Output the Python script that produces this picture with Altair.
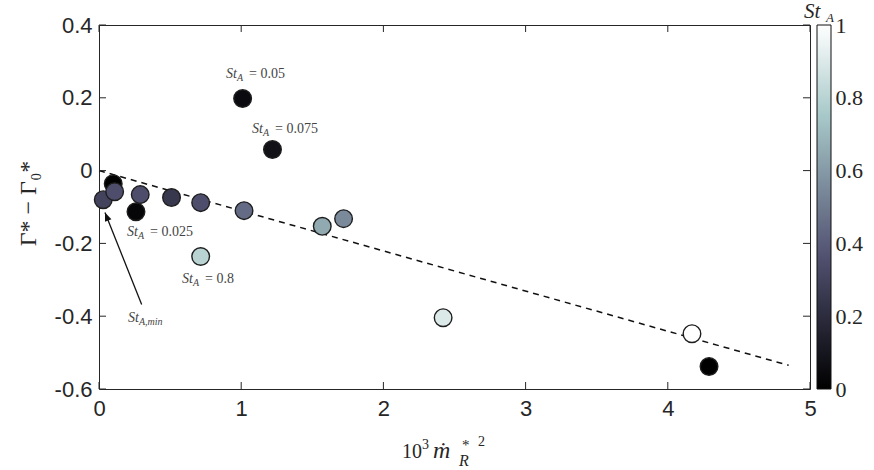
import altair as alt
import pandas as pd

# ---- data ----
x_vals = [0.10, 0.03, 0.11, 0.26, 0.29, 0.51, 0.715, 1.02, 0.715, 1.01, 1.22, 1.57, 1.72, 2.42, 4.17, 4.29]
y_vals = [-0.036, -0.080, -0.058, -0.113, -0.066, -0.074, -0.088, -0.110, -0.236, 0.198, 0.058, -0.153, -0.132, -0.404, -0.448, -0.538]
st_vals = [0.0, 0.30, 0.35, 0.025, 0.35, 0.25, 0.35, 0.45, 0.80, 0.05, 0.075, 0.65, 0.55, 0.90, 1.00, 0.0]

line_x = [0.0, 4.85]
line_y = [0.0, -0.535]

ann_x = [0.893, 1.076, 0.197, 0.584, 0.204]
ann_y = [0.2555, 0.104, -0.1786, -0.3077, -0.415]
ann_sub = ["A", "A", "A", "A", "A,min"]
ann_rest = ["= 0.05", "= 0.075", "= 0.025", "= 0.8", ""]

arrow_from = [0.30, -0.368]
arrow_to = [0.042, -0.115]

x_ticks = [0, 1, 2, 3, 4, 5]
y_ticks = [-0.6, -0.4, -0.2, 0, 0.2, 0.4]
cbar_ticks = [0, 0.2, 0.4, 0.6, 0.8, 1]

W, H = 711, 364
INK = "#262626"
SERIF = "Liberation Serif"

xscale = alt.Scale(domain=[0, 5], nice=False, zero=False)
yscale = alt.Scale(domain=[-0.6, 0.4], nice=False, zero=False)
cscale = alt.Scale(domain=[0, 0.365, 0.746, 1],
                   range=["#000000", "#515171", "#a6c7c7", "#ffffff"],
                   interpolate="rgb")

pts = pd.DataFrame({"x": x_vals, "y": y_vals, "st": st_vals, "order": list(range(len(x_vals)))})

points = alt.Chart(pts).mark_circle(size=310, opacity=1, stroke="#1e1e1e", strokeWidth=1.4).encode(
    x=alt.X("x:Q", scale=xscale,
            axis=alt.Axis(values=x_ticks, title=None, ticks=False, grid=False, domain=False,
                          labelFont="Liberation Sans", labelFontSize=22, labelColor=INK,
                          labelPadding=9, labelFlush=False, labelExpr="format(datum.value, 'd')")),
    y=alt.Y("y:Q", scale=yscale,
            axis=alt.Axis(values=y_ticks, title="Γ* − Γ₀*", ticks=False, grid=False, domain=False,
                          labelFont="Liberation Sans", labelFontSize=22, labelColor=INK,
                          labelPadding=7, labelFlush=False,
                          labelExpr="datum.value == 0 ? '0' : replace(format(datum.value, '.1f'), '−', '-')",
                          titleFont=SERIF, titleFontSize=24, titleFontWeight="normal", titleColor=INK,
                          titleX=-71, titleY=178, titleAngle=270, titleAlign="center",
                          titleBaseline="middle")),
    color=alt.Color("st:Q", scale=cscale,
                    legend=alt.Legend(orient="none", legendX=718, legendY=0, title=None,
                                      direction="vertical", gradientLength=H, gradientThickness=14,
                                      gradientStrokeColor="#111", gradientStrokeWidth=1,
                                      values=cbar_ticks, labelOpacity=0, labelExpr="''",
                                      padding=0, offset=0)),
    order=alt.Order("order:Q"),
)

line_df = pd.DataFrame({"x": line_x, "y": line_y})
fit = alt.Chart(line_df).mark_line(color="#111", strokeWidth=1.5, strokeDash=[6, 5]).encode(
    x=alt.X("x:Q", scale=xscale), y=alt.Y("y:Q", scale=yscale))

ann_df = pd.DataFrame({"x": ann_x, "y": ann_y, "sub": ann_sub, "rest": ann_rest})
abase = alt.Chart(ann_df).encode(x=alt.X("x:Q", scale=xscale), y=alt.Y("y:Q", scale=yscale))
ann_st = abase.mark_text(align="left", baseline="alphabetic", font=SERIF, fontStyle="italic",
                         fontSize=14, color="#444").encode(text=alt.value("St"))
ann_sb = abase.mark_text(align="left", baseline="alphabetic", font=SERIF, fontStyle="italic",
                         fontSize=10, color="#444", dx=11, dy=3).encode(text="sub:N")
ann_rt = abase.mark_text(align="left", baseline="alphabetic", font=SERIF,
                         fontSize=14, color="#444", dx=23).encode(text="rest:N")

arrow_df = pd.DataFrame({"x": [arrow_from[0]], "y": [arrow_from[1]],
                         "x2": [arrow_to[0]], "y2": [arrow_to[1]]})
arrow_line = alt.Chart(arrow_df).mark_rule(color="#111", strokeWidth=1.3).encode(
    x=alt.X("x:Q", scale=xscale), y=alt.Y("y:Q", scale=yscale), x2="x2:Q", y2="y2:Q")
arrow_head = alt.Chart(arrow_df).mark_point(shape="M0,0 L-0.4,1 L0.4,1 Z", size=300, angle=338,
                                            filled=True, color="#111", opacity=1).encode(
    x=alt.X("x2:Q", scale=xscale), y=alt.Y("y2:Q", scale=yscale))

# inward ticks (box style)
xt = pd.DataFrame({"v": x_ticks})
yt = pd.DataFrame({"v": y_ticks})
tb = alt.Chart(xt).mark_rule(color=INK, strokeWidth=1).encode(
    x=alt.X("v:Q", scale=xscale), y=alt.value(H), y2=alt.value(H - 7))
tt = alt.Chart(xt).mark_rule(color=INK, strokeWidth=1).encode(
    x=alt.X("v:Q", scale=xscale), y=alt.value(0), y2=alt.value(7))
tl = alt.Chart(yt).mark_rule(color=INK, strokeWidth=1).encode(
    y=alt.Y("v:Q", scale=yscale), x=alt.value(0), x2=alt.value(7))
tr = alt.Chart(yt).mark_rule(color=INK, strokeWidth=1).encode(
    y=alt.Y("v:Q", scale=yscale), x=alt.value(W), x2=alt.value(W - 7))

# x-axis title pieces: 10^3 mdot*_R^2
one = alt.Data(values=[{"k": 0}])
def piece(txt, px, py, size, italic=False):
    return alt.Chart(one).mark_text(align="left", baseline="alphabetic", font=SERIF,
                                    fontStyle="italic" if italic else "normal",
                                    fontSize=size, color=INK).encode(
        x=alt.value(px), y=alt.value(py), text=alt.value(txt))

xtitle = [
    piece("10", 303, 433, 20),
    piece("3", 323, 424, 14),
    piece("ṁ", 334, 433, 24, True),
    piece("*", 363, 425, 15),
    piece("R", 360, 441, 16, True),
    piece("2", 379, 421, 14),
]
ctitle = [
    piece("St", 705, -7, 21, True),
    piece("A", 727, -3, 13, True),
]

main = alt.layer(fit, points, ann_st, ann_sb, ann_rt, arrow_line, arrow_head,
                 tb, tt, tl, tr, *xtitle, *ctitle)

# colorbar tick labels as a right-side axis on the colour value scale
cb = pd.DataFrame({"v": cbar_ticks})
cbar_axis = alt.Chart(cb).mark_point(opacity=0).encode(
    x=alt.value(W + 15),
    y=alt.Y("v:Q", scale=alt.Scale(domain=[0, 1], nice=False, zero=False),
            axis=alt.Axis(orient="right", values=cbar_ticks, title=None, ticks=False, grid=False,
                          domain=False, offset=20, labelPadding=5, labelFont=SERIF,
                          labelFontSize=22, labelColor=INK, labelFlush=False,
                          labelExpr="datum.value == 0 ? '0' : datum.value == 1 ? '1' : format(datum.value, '.1f')")),
)

chart = alt.layer(main, cbar_axis).resolve_scale(y="independent").properties(
    width=W, height=H,
    autosize=alt.AutoSizeParams(type="none"),
    padding={"left": 99, "top": 25, "right": 64, "bottom": 81},
    background="white",
).configure_view(stroke=INK, strokeWidth=1).configure_axis(labelFontWeight="normal")

chart.save("out.html", embed_options={"renderer": "svg", "actions": False})
